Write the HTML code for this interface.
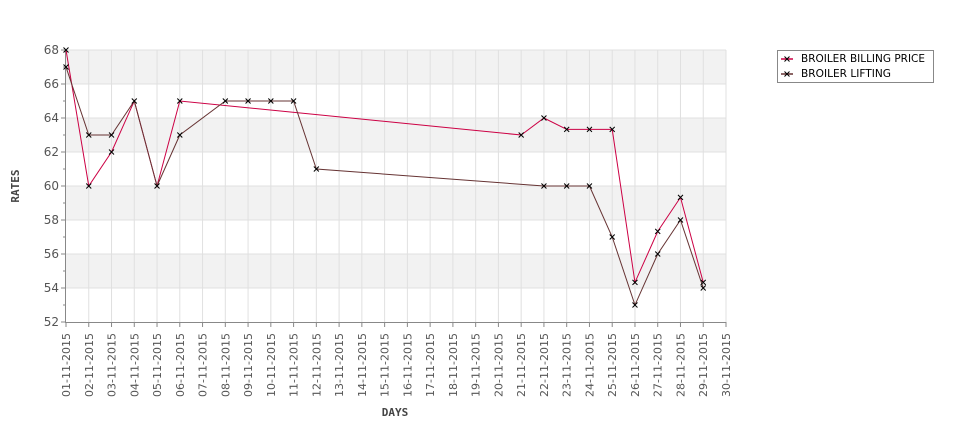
<!DOCTYPE html>
<html><head><meta charset="utf-8"><style>body{margin:0;background:#fff}svg{display:block}</style></head>
<body>
<svg width="975" height="429" xmlns="http://www.w3.org/2000/svg" xmlns:xlink="http://www.w3.org/1999/xlink" font-family="'DejaVu Sans', sans-serif">
<defs><path id="m" d="M-2.5,-2.5L2.5,2.5M-2.5,2.5L2.5,-2.5" stroke="#000" stroke-width="1"/></defs>
<g fill="#f2f2f2"><rect x="66" y="50" width="660" height="34"/><rect x="66" y="118" width="660" height="34"/><rect x="66" y="186" width="660" height="34"/><rect x="66" y="254" width="660" height="34"/></g>
<g stroke="#e0e0e0" stroke-width="1">
<path d="M66,50H726M66,84H726M66,118H726M66,152H726M66,186H726M66,220H726M66,254H726M66,288H726"/>
<path d="M88.76,50V322M111.52,50V322M134.28,50V322M157.03,50V322M179.79,50V322M202.55,50V322M225.31,50V322M248.07,50V322M270.83,50V322M293.59,50V322M316.34,50V322M339.1,50V322M361.86,50V322M384.62,50V322M407.38,50V322M430.14,50V322M452.9,50V322M475.66,50V322M498.41,50V322M521.17,50V322M543.93,50V322M566.69,50V322M589.45,50V322M612.21,50V322M634.97,50V322M657.72,50V322M680.48,50V322M703.24,50V322M726,50V322"/>
</g>
<g stroke="#888" stroke-width="1" fill="none">
<path d="M65.5,50V322.5H726"/>
<path d="M61,50H66M63,67H66M61,84H66M63,101H66M61,118H66M63,135H66M61,152H66M63,169H66M61,186H66M63,203H66M61,220H66M63,237H66M61,254H66M63,271H66M61,288H66M63,305H66M61,322H66"/>
<path d="M66,322V327M88.76,322V327M111.52,322V327M134.28,322V327M157.03,322V327M179.79,322V327M202.55,322V327M225.31,322V327M248.07,322V327M270.83,322V327M293.59,322V327M316.34,322V327M339.1,322V327M361.86,322V327M384.62,322V327M407.38,322V327M430.14,322V327M452.9,322V327M475.66,322V327M498.41,322V327M521.17,322V327M543.93,322V327M566.69,322V327M589.45,322V327M612.21,322V327M634.97,322V327M657.72,322V327M680.48,322V327M703.24,322V327M726,322V327"/>
</g>
<g font-size="12" fill="#555" text-anchor="end">
<text x="59" y="54">68</text><text x="59" y="88">66</text><text x="59" y="122">64</text><text x="59" y="156">62</text><text x="59" y="190">60</text><text x="59" y="224">58</text><text x="59" y="258">56</text><text x="59" y="292">54</text><text x="59" y="326">52</text>
</g>
<g font-size="11" fill="#555" text-anchor="end">
<text transform="translate(70,333) rotate(-90)">01-11-2015</text>
<text transform="translate(92.76,333) rotate(-90)">02-11-2015</text>
<text transform="translate(115.52,333) rotate(-90)">03-11-2015</text>
<text transform="translate(138.28,333) rotate(-90)">04-11-2015</text>
<text transform="translate(161.03,333) rotate(-90)">05-11-2015</text>
<text transform="translate(183.79,333) rotate(-90)">06-11-2015</text>
<text transform="translate(206.55,333) rotate(-90)">07-11-2015</text>
<text transform="translate(229.31,333) rotate(-90)">08-11-2015</text>
<text transform="translate(252.07,333) rotate(-90)">09-11-2015</text>
<text transform="translate(274.83,333) rotate(-90)">10-11-2015</text>
<text transform="translate(297.59,333) rotate(-90)">11-11-2015</text>
<text transform="translate(320.34,333) rotate(-90)">12-11-2015</text>
<text transform="translate(343.1,333) rotate(-90)">13-11-2015</text>
<text transform="translate(365.86,333) rotate(-90)">14-11-2015</text>
<text transform="translate(388.62,333) rotate(-90)">15-11-2015</text>
<text transform="translate(411.38,333) rotate(-90)">16-11-2015</text>
<text transform="translate(434.14,333) rotate(-90)">17-11-2015</text>
<text transform="translate(456.9,333) rotate(-90)">18-11-2015</text>
<text transform="translate(479.66,333) rotate(-90)">19-11-2015</text>
<text transform="translate(502.41,333) rotate(-90)">20-11-2015</text>
<text transform="translate(525.17,333) rotate(-90)">21-11-2015</text>
<text transform="translate(547.93,333) rotate(-90)">22-11-2015</text>
<text transform="translate(570.69,333) rotate(-90)">23-11-2015</text>
<text transform="translate(593.45,333) rotate(-90)">24-11-2015</text>
<text transform="translate(616.21,333) rotate(-90)">25-11-2015</text>
<text transform="translate(638.97,333) rotate(-90)">26-11-2015</text>
<text transform="translate(661.72,333) rotate(-90)">27-11-2015</text>
<text transform="translate(684.48,333) rotate(-90)">28-11-2015</text>
<text transform="translate(707.24,333) rotate(-90)">29-11-2015</text>
<text transform="translate(730,333) rotate(-90)">30-11-2015</text>
</g>
<text x="395" y="416" font-size="11" font-weight="bold" fill="#444" font-family="'DejaVu Sans Mono', monospace" text-anchor="middle">DAYS</text>
<text transform="translate(19,186) rotate(-90)" font-size="11" font-weight="bold" fill="#444" font-family="'DejaVu Sans Mono', monospace" text-anchor="middle">RATES</text>
<polyline fill="none" stroke="#cc0044" stroke-width="1" points="66,50 88.76,186 111.52,152 134.28,101 157.03,186 179.79,101 521.17,135 543.93,118 566.69,129.4 589.45,129.4 612.21,129.4 634.97,282.4 657.72,231.4 680.48,197.4 703.24,282.4"/>
<polyline fill="none" stroke="#663333" stroke-width="1" points="66,67 88.76,135 111.52,135 134.28,101 157.03,186 179.79,135 225.31,101 248.07,101 270.83,101 293.59,101 316.34,169 543.93,186 566.69,186 589.45,186 612.21,237 634.97,305 657.72,254 680.48,220 703.24,288"/>
<g>
<use xlink:href="#m" x="66" y="50"/><use xlink:href="#m" x="88.76" y="186"/><use xlink:href="#m" x="111.52" y="152"/><use xlink:href="#m" x="134.28" y="101"/><use xlink:href="#m" x="157.03" y="186"/><use xlink:href="#m" x="179.79" y="101"/><use xlink:href="#m" x="521.17" y="135"/><use xlink:href="#m" x="543.93" y="118"/><use xlink:href="#m" x="566.69" y="129.4"/><use xlink:href="#m" x="589.45" y="129.4"/><use xlink:href="#m" x="612.21" y="129.4"/><use xlink:href="#m" x="634.97" y="282.4"/><use xlink:href="#m" x="657.72" y="231.4"/><use xlink:href="#m" x="680.48" y="197.4"/><use xlink:href="#m" x="703.24" y="282.4"/>
<use xlink:href="#m" x="66" y="67"/><use xlink:href="#m" x="88.76" y="135"/><use xlink:href="#m" x="111.52" y="135"/><use xlink:href="#m" x="179.79" y="135"/><use xlink:href="#m" x="225.31" y="101"/><use xlink:href="#m" x="248.07" y="101"/><use xlink:href="#m" x="270.83" y="101"/><use xlink:href="#m" x="293.59" y="101"/><use xlink:href="#m" x="316.34" y="169"/><use xlink:href="#m" x="543.93" y="186"/><use xlink:href="#m" x="566.69" y="186"/><use xlink:href="#m" x="589.45" y="186"/><use xlink:href="#m" x="612.21" y="237"/><use xlink:href="#m" x="634.97" y="305"/><use xlink:href="#m" x="657.72" y="254"/><use xlink:href="#m" x="680.48" y="220"/><use xlink:href="#m" x="703.24" y="288"/>
</g>
<rect x="777.5" y="50.5" width="156" height="32" fill="#fff" stroke="#888"/>
<path d="M781,59H793" stroke="#cc0044" stroke-width="1.5"/><use xlink:href="#m" x="787" y="59"/>
<path d="M781,74H793" stroke="#663333" stroke-width="1.5"/><use xlink:href="#m" x="787" y="74"/>
<g font-size="10.5" fill="#000"><text x="801" y="62" textLength="124" lengthAdjust="spacingAndGlyphs">BROILER BILLING PRICE</text><text x="801" y="77" textLength="90" lengthAdjust="spacingAndGlyphs">BROILER LIFTING</text></g>
</svg>
</body></html>
